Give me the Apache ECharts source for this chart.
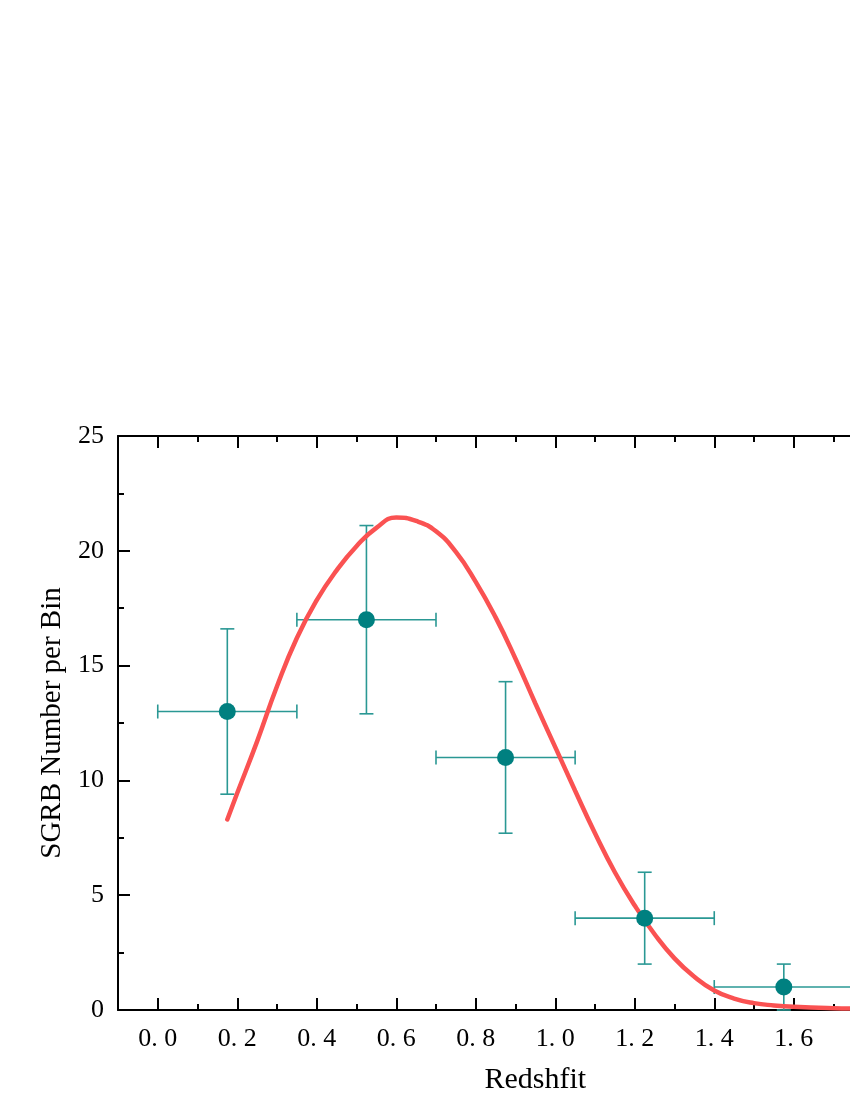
<!DOCTYPE html>
<html>
<head>
<meta charset="utf-8">
<script src="https://cdn.jsdelivr.net/npm/echarts@6/dist/echarts.min.js"></script>
<style>
html, body { margin: 0; padding: 0; background: #fff; }
#main { width: 850px; height: 1100px; }
</style>
</head>
<body>
<div id="main"></div>
<script>
// binned SGRB counts
var binCenter = [0.175, 0.525, 0.875, 1.225, 1.575];
var binLow = [0.0, 0.35, 0.7, 1.05, 1.4];
var binHigh = [0.35, 0.7, 1.05, 1.4, 1.75];
var counts = [13, 17, 11, 4, 1];
var countLow = [9.4, 12.9, 7.7, 2.0, 0.0];
var countHigh = [16.6, 21.1, 14.3, 6.0, 2.0];

// model curve
var curveX = [0.175, 0.2, 0.25, 0.3, 0.35, 0.4, 0.45, 0.5, 0.55, 0.6, 0.65, 0.7, 0.75, 0.8, 0.85, 0.9,
	0.95, 1.0, 1.05, 1.1, 1.15, 1.2, 1.25, 1.3, 1.35, 1.4, 1.45, 1.5, 1.55, 1.6, 1.7, 1.8, 1.9, 2.0];
var curveY = [8.3, 9.45, 11.7, 14.1, 16.2, 17.85, 19.15, 20.2, 21.0, 21.45, 21.3, 20.85, 19.95, 18.65, 17.1, 15.3,
	13.35, 11.45, 9.55, 7.7, 6.0, 4.55, 3.3, 2.25, 1.45, 0.85, 0.5, 0.3, 0.2, 0.14, 0.08, 0.05, 0.04, 0.03];

var majorX = [0, 0.2, 0.4, 0.6, 0.8, 1.0, 1.2, 1.4, 1.6, 1.8, 2.0];
var minorX = [-0.1, 0.1, 0.3, 0.5, 0.7, 0.9, 1.1, 1.3, 1.5, 1.7, 1.9];

var chart = echarts.init(document.getElementById('main'));

var lineCol = '#000';
var errCol = '#2a9894';
var serif = 'Liberation Serif';

function xAxisDef(pos, values, len, labels, line) {
	return {
		type: 'value',
		position: pos,
		min: -0.1,
		max: 2.0,
		name: labels ? 'Redshfit' : '',
		nameLocation: 'middle',
		nameGap: 55,
		nameTextStyle: { fontFamily: serif, fontSize: 30, color: '#000' },
		axisLine: { show: line, onZero: false, lineStyle: { color: lineCol, width: 2 } },
		axisTick: { show: true, inside: true, length: len, customValues: values, lineStyle: { color: lineCol, width: 2 } },
		axisLabel: {
			show: labels, customValues: values, margin: 16,
			fontFamily: serif, fontSize: 26, color: '#000',
			formatter: function (v) { return v.toFixed(1).replace('.', '. '); }
		},
		splitLine: { show: false }
	};
}

var errData = [];
for (var i = 0; i < counts.length; i++) {
	errData.push([binCenter[i], counts[i], binLow[i], binHigh[i], countLow[i], countHigh[i]]);
}

var option = {
	animation: false,
	grid: { left: 118, right: -102.75, top: 436, bottom: 90, outerBoundsMode: 'none', containLabel: false },
	xAxis: [
		xAxisDef('bottom', majorX, 12, true, true),
		xAxisDef('bottom', minorX, 6, false, false),
		xAxisDef('top', majorX, 12, false, true),
		xAxisDef('top', minorX, 6, false, false)
	],
	yAxis: [{
		type: 'value',
		min: 0,
		max: 25,
		interval: 5,
		name: 'SGRB Number per Bin',
		nameLocation: 'middle',
		nameGap: 50,
		nameTextStyle: { fontFamily: serif, fontSize: 29, color: '#000' },
		axisLine: { show: true, onZero: false, lineStyle: { color: lineCol, width: 2 } },
		axisTick: { show: true, inside: true, length: 12, lineStyle: { color: lineCol, width: 2 } },
		minorTick: { show: true, splitNumber: 2, length: 6, lineStyle: { color: lineCol, width: 2 } },
		axisLabel: { margin: 14, fontFamily: serif, fontSize: 26, color: '#000' },
		splitLine: { show: false }
	}],
	series: [{
		type: 'custom',
		xAxisIndex: 0,
		data: errData,
		renderItem: function (params, api) {
			var c = api.coord([api.value(0), api.value(1)]);
			var l = api.coord([api.value(2), api.value(1)]);
			var r = api.coord([api.value(3), api.value(1)]);
			var b = api.coord([api.value(0), api.value(4)]);
			var t = api.coord([api.value(0), api.value(5)]);
			var cap = 7;
			var st = { stroke: errCol, lineWidth: 1.6 };
			return {
				type: 'group',
				children: [
					{ type: 'line', shape: { x1: l[0], y1: c[1], x2: r[0], y2: c[1] }, style: st },
					{ type: 'line', shape: { x1: l[0], y1: c[1] - cap, x2: l[0], y2: c[1] + cap }, style: st },
					{ type: 'line', shape: { x1: r[0], y1: c[1] - cap, x2: r[0], y2: c[1] + cap }, style: st },
					{ type: 'line', shape: { x1: c[0], y1: b[1], x2: c[0], y2: t[1] }, style: st },
					{ type: 'line', shape: { x1: c[0] - cap, y1: t[1], x2: c[0] + cap, y2: t[1] }, style: st },
					{ type: 'line', shape: { x1: c[0] - cap, y1: b[1], x2: c[0] + cap, y2: b[1] }, style: st }
				]
			};
		},
		z: 2
	}, {
		type: 'line',
		xAxisIndex: 0,
		data: curveX.map(function (x, i) { return [x, curveY[i]]; }),
		smooth: 0.5,
		showSymbol: false,
		lineStyle: { color: '#fa5252', width: 4.5, cap: 'round' },
		z: 3
	}, {
		type: 'scatter',
		xAxisIndex: 0,
		data: binCenter.map(function (x, i) { return [x, counts[i]]; }),
		symbolSize: 17,
		itemStyle: { color: '#008080', opacity: 1 },
		z: 4
	}]
};

chart.setOption(option);
</script>
</body>
</html>
